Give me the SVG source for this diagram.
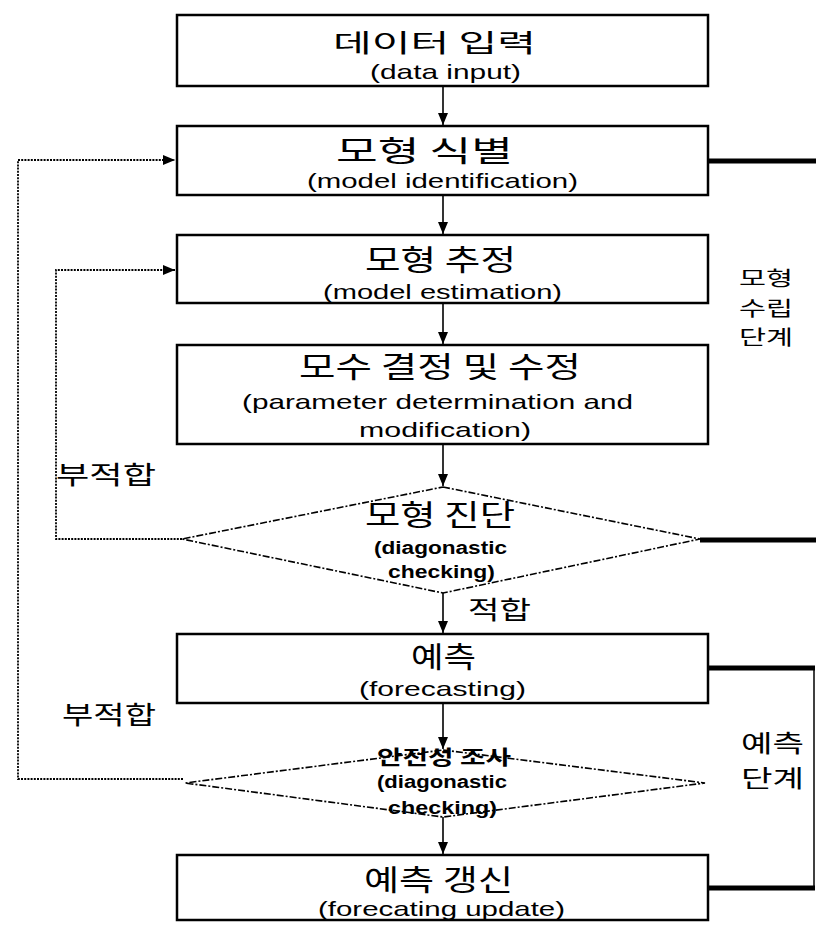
<svg xmlns="http://www.w3.org/2000/svg" width="816" height="926" viewBox="0 0 816 926">
<style>
.box{fill:#fff;stroke:#000;stroke-width:2.5}
.dia{fill:none;stroke:#000;stroke-width:1.6;stroke-dasharray:7 2 2 2}
.kr{font-family:"Noto Sans CJK KR","Noto Sans",sans-serif;fill:#000}
.en{font-family:"Liberation Sans",Arial,sans-serif;fill:#000}
.flow{fill:none;stroke:#000;stroke-width:1.6}
.loop{fill:none;stroke:#000;stroke-width:1.8;stroke-dasharray:2 1.2}
.thick{fill:none;stroke:#000;stroke-width:5}
.thin{fill:none;stroke:#000;stroke-width:1.5}
</style>
<defs>
<marker id="ah" markerUnits="userSpaceOnUse" markerWidth="13" markerHeight="11" refX="12" refY="5" orient="auto">
<path d="M0,0 L12,5 L0,10 z" fill="#000"/>
</marker>
</defs>
<rect width="816" height="926" fill="#fff"/>

<g id="connectors">
<line class="flow" x1="443" y1="86" x2="443" y2="125" marker-end="url(#ah)"/>
<line class="flow" x1="443" y1="195" x2="443" y2="234" marker-end="url(#ah)"/>
<line class="flow" x1="443" y1="303" x2="443" y2="344" marker-end="url(#ah)"/>
<line class="flow" x1="443" y1="444" x2="443" y2="486" marker-end="url(#ah)"/>
<line class="flow" x1="443" y1="593" x2="443" y2="633" marker-end="url(#ah)"/>
<line class="flow" x1="443" y1="703" x2="443" y2="749" marker-end="url(#ah)"/>
<line class="flow" x1="443" y1="817" x2="443" y2="854" marker-end="url(#ah)"/>
<polyline class="loop" points="183,779 18,779 18,160 175,160" marker-end="url(#ah)"/>
<polyline class="loop" points="182,539 56,539 56,270 175,270" marker-end="url(#ah)"/>
<line class="thick" x1="708" y1="161" x2="816" y2="161"/>
<line class="thick" x1="700" y1="540" x2="816" y2="540"/>
<line class="thick" x1="708" y1="668" x2="815" y2="668"/>
<line class="thick" x1="708" y1="888" x2="815" y2="888"/>
<line class="thin" x1="814" y1="666" x2="814" y2="890"/>
</g>

<g id="n1">
<rect class="box" x="177" y="15" width="531" height="71"/>
<text class="kr" x="333" y="52" font-size="25" textLength="203" lengthAdjust="spacingAndGlyphs">데이터 입력</text>
<text class="en" x="370" y="79" font-size="21" textLength="151" lengthAdjust="spacingAndGlyphs">(data input)</text>
</g>

<g id="n2">
<rect class="box" x="177" y="126" width="531" height="69"/>
<text class="kr" x="336" y="162" font-size="29" textLength="177" lengthAdjust="spacingAndGlyphs">모형 식별</text>
<text class="en" x="307" y="188" font-size="21" textLength="271" lengthAdjust="spacingAndGlyphs">(model identification)</text>
</g>

<g id="n3">
<rect class="box" x="177" y="235" width="531" height="68"/>
<text class="kr" x="365" y="271" font-size="29" textLength="151" lengthAdjust="spacingAndGlyphs">모형 추정</text>
<text class="en" x="323" y="299" font-size="21" textLength="239" lengthAdjust="spacingAndGlyphs">(model estimation)</text>
</g>

<g id="n4">
<rect class="box" x="177" y="345" width="531" height="99"/>
<text class="kr" x="299" y="378" font-size="29" textLength="282" lengthAdjust="spacingAndGlyphs">모수 결정 및 수정</text>
<text class="en" x="242" y="409" font-size="21" textLength="391" lengthAdjust="spacingAndGlyphs">(parameter determination and</text>
<text class="en" x="359" y="437" font-size="21" textLength="172" lengthAdjust="spacingAndGlyphs">modification)</text>
</g>

<g id="d1">
<polygon class="dia" points="443,487 700,539 443,593 182,539"/>
<text class="kr" x="365" y="526" font-size="29" textLength="150" lengthAdjust="spacingAndGlyphs">모형 진단</text>
<text class="en" x="374" y="554" font-size="18" font-weight="bold" textLength="133" lengthAdjust="spacingAndGlyphs">(diagonastic</text>
<text class="en" x="388" y="578" font-size="18" font-weight="bold" textLength="107" lengthAdjust="spacingAndGlyphs">checking)</text>
</g>

<g id="n5">
<rect class="box" x="177" y="634" width="531" height="69"/>
<text class="kr" x="411" y="668" font-size="29" textLength="65" lengthAdjust="spacingAndGlyphs">예측</text>
<text class="en" x="359" y="696" font-size="21" textLength="167" lengthAdjust="spacingAndGlyphs">(forecasting)</text>
</g>

<g id="d2">
<polygon class="dia" points="443,750 705,783 443,817 185,783"/>
<text class="kr" x="377" y="765" font-size="20" font-weight="bold" textLength="134" lengthAdjust="spacingAndGlyphs">안전성 조사</text>
<text class="en" x="377" y="788" font-size="18" font-weight="bold" textLength="130" lengthAdjust="spacingAndGlyphs">(diagonastic</text>
<text class="en" x="388" y="814" font-size="18" font-weight="bold" textLength="109" lengthAdjust="spacingAndGlyphs">checking)</text>
</g>

<g id="n6">
<rect class="box" x="177" y="855" width="531" height="65"/>
<text class="kr" x="364" y="891" font-size="29" textLength="149" lengthAdjust="spacingAndGlyphs">예측 갱신</text>
<text class="en" x="318" y="916" font-size="21" textLength="247" lengthAdjust="spacingAndGlyphs">(forecating update)</text>
</g>

<g id="labels">
<text class="kr" x="56" y="484" font-size="25" textLength="100" lengthAdjust="spacingAndGlyphs">부적합</text>
<text class="kr" x="468" y="619" font-size="25" textLength="63" lengthAdjust="spacingAndGlyphs">적합</text>
<text class="kr" x="62" y="724" font-size="25" textLength="94" lengthAdjust="spacingAndGlyphs">부적합</text>
<text class="kr" x="739" y="286" font-size="20" textLength="54" lengthAdjust="spacingAndGlyphs">모형</text>
<text class="kr" x="739" y="315.5" font-size="20" textLength="54" lengthAdjust="spacingAndGlyphs">수립</text>
<text class="kr" x="739" y="345" font-size="20" textLength="54" lengthAdjust="spacingAndGlyphs">단계</text>
<text class="kr" x="741" y="752" font-size="24" textLength="63" lengthAdjust="spacingAndGlyphs">예측</text>
<text class="kr" x="741" y="787" font-size="24" textLength="63" lengthAdjust="spacingAndGlyphs">단계</text>
</g>
</svg>
